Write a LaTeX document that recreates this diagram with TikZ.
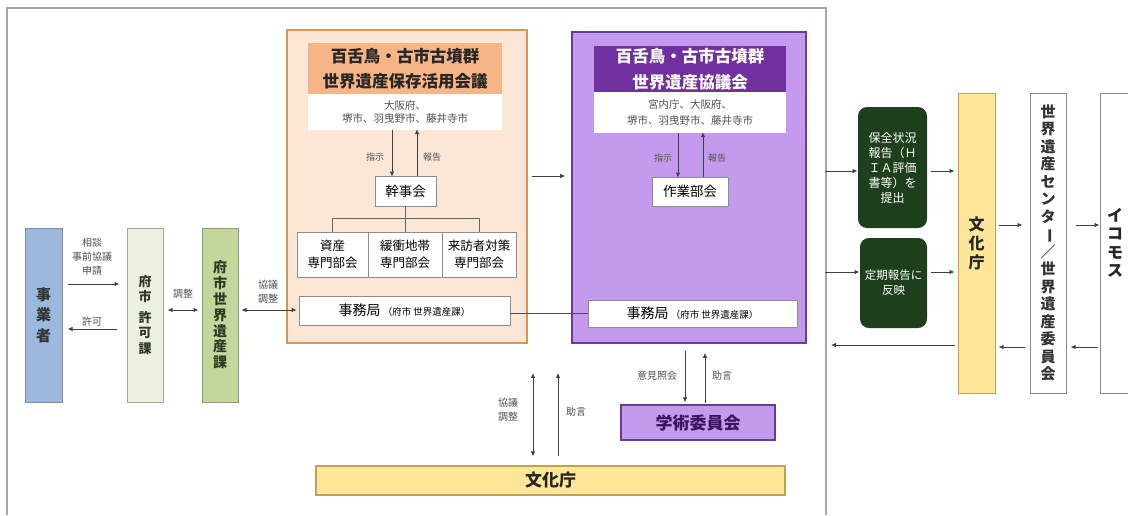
\documentclass[tikz,border=0pt]{standalone}
\usepackage{fontspec}
\setmainfont{Noto Sans CJK JP}
\usetikzlibrary{arrows.meta}
\definecolor{framegray}{HTML}{A6A6A6}
\definecolor{arrgray}{HTML}{404040}
\definecolor{lblgray}{HTML}{505050}
\definecolor{boxgray}{HTML}{8C8C8C}
\definecolor{jigfill}{HTML}{9CB8DE}
\definecolor{jigbd}{HTML}{7F8FA6}
\definecolor{kyofill}{HTML}{EBF1DE}
\definecolor{kyobd}{HTML}{A0A89A}
\definecolor{sekfill}{HTML}{C3D69B}
\definecolor{sekbd}{HTML}{8F9C7A}
\definecolor{orgfill}{HTML}{FCE6D6}
\definecolor{orgbd}{HTML}{D8955A}
\definecolor{orgtitle}{HTML}{F6B586}
\definecolor{purfill}{HTML}{C49AEE}
\definecolor{purbd}{HTML}{6A3A96}
\definecolor{purtitle}{HTML}{7030A0}
\definecolor{gakutext}{HTML}{3C1361}
\definecolor{yelfill}{HTML}{FFE699}
\definecolor{yelbd}{HTML}{BFA15A}
\definecolor{dkgreen}{HTML}{1E3F1B}
\definecolor{vtext}{HTML}{2E3A24}
\begin{document}
\begin{tikzpicture}[x=1pt,y=-1pt,
  arr/.style={draw=arrgray, line width=0.8pt, -{Latex[length=5pt,width=4.5pt]}},
  darr/.style={draw=arrgray, line width=0.8pt, {Latex[length=5pt,width=4.5pt]}-{Latex[length=5pt,width=4.5pt]}},
  lbl/.style={text=lblgray, align=center, inner sep=0pt, font=\fontsize{10}{14}\selectfont},
  wbox/.style={draw=boxgray, fill=white, line width=0.8pt, inner sep=0pt, align=center},
  vbox/.style={line width=1pt, inner sep=0pt, align=center},
]
\useasboundingbox (0,0) rectangle (1128,515);
% frame
\draw[framegray, line width=1.3pt] (7,515) -- (7,8) -- (826,8) -- (826,515);

% left column boxes
\node[vbox, draw=jigbd, fill=jigfill, minimum width=37, minimum height=174, font=\fontsize{15}{20.5}\selectfont\bfseries, text=black!80] (jig) at (43.5,315) {事\\業\\者};
\node[vbox, draw=kyobd, fill=kyofill, minimum width=36, minimum height=174, font=\fontsize{13}{15.5}\selectfont\bfseries, text=vtext] (kyo) at (145,315) {府\\市\\[5pt]許\\可\\課};
\node[vbox, draw=sekbd, fill=sekfill, minimum width=36, minimum height=174, font=\fontsize{14}{15.8}\selectfont\bfseries, text=vtext] (sek) at (220,315) {府\\市\\世\\界\\遺\\産\\課};

% orange council
\node[draw=orgbd, fill=orgfill, line width=1.8pt, minimum width=240, minimum height=313, inner sep=0pt] (org) at (407,186.5) {};
\node[fill=orgtitle, minimum width=194, minimum height=52, inner sep=0pt, align=center, font=\fontsize{16.5}{25}\selectfont\bfseries, text=black!85] (otitle) at (405,69) {百舌鳥・古市古墳群\\世界遺産保存活用会議};
\node[fill=white, minimum width=194, minimum height=36, inner sep=0pt, align=center, font=\fontsize{10.5}{13.5}\selectfont, text=lblgray] (omem) at (405,112) {大阪府、\\堺市、羽曳野市、藤井寺市};
\node[wbox, minimum width=61, minimum height=30, font=\fontsize{13.5}{16}\selectfont] (kanji) at (405.5,191) {幹事会};
\node[wbox, minimum width=71, minimum height=45, font=\fontsize{12.5}{17}\selectfont] (b1) at (332.5,254.5) {資産\\専門部会};
\node[wbox, minimum width=74, minimum height=45, font=\fontsize{12.5}{17}\selectfont] (b2) at (405,254.5) {緩衝地帯\\専門部会};
\node[wbox, minimum width=74, minimum height=45, font=\fontsize{12.5}{17}\selectfont] (b3) at (479,254.5) {来訪者対策\\専門部会};
\node[wbox, minimum width=211, minimum height=29, font=\fontsize{14}{16}\selectfont] (ojim) at (404.5,310.5) {事務局\,{\fontsize{9.5}{11}\selectfont（府市 世界遺産課）}};
\coordinate (ox1) at (392,0);
\coordinate (ox2) at (417,0);
\draw[arr] (omem.south -| ox1) -- ([yshift=-1pt]kanji.north -| ox1);
\draw[arr] (kanji.north -| ox2) -- ([yshift=1pt]omem.south -| ox2);
\node[lbl, font=\fontsize{9}{11}\selectfont] (oshiji) at (375,157) {指示};
\node[lbl, font=\fontsize{9}{11}\selectfont] (ohoko) at (432,157) {報告};
\draw[draw=black!60, line width=0.9pt] (kanji.south) -- ++(0,12) coordinate (tj);
\draw[draw=black!60, line width=0.9pt] (b1.north) -- (b1.north |- tj) -- (b3.north |- tj) -- (b3.north);
\draw[draw=black!60, line width=0.9pt] (b2.north) -- (b2.north |- tj);

% purple council
\node[draw=purbd, fill=purfill, line width=1.6pt, minimum width=234, minimum height=311, inner sep=0pt] (pur) at (689,187.5) {};
\node[fill=purtitle, minimum width=192, minimum height=47, inner sep=0pt, align=center, font=\fontsize{16.5}{26}\selectfont\bfseries, text=white] (ptitle) at (690,69.5) {百舌鳥・古市古墳群\\世界遺産協議会};
\node[fill=white, minimum width=192, minimum height=41, inner sep=0pt, align=center, font=\fontsize{10.5}{16}\selectfont, text=lblgray] (pmem) at (690,112.5) {宮内庁、大阪府、\\堺市、羽曳野市、藤井寺市};
\node[wbox, minimum width=76, minimum height=29, font=\fontsize{13.5}{16}\selectfont] (sagyo) at (690,191.5) {作業部会};
\node[wbox, minimum width=209, minimum height=27, font=\fontsize{14}{16}\selectfont] (pjim) at (692.5,313.5) {事務局\,{\fontsize{9.5}{11}\selectfont（府市 世界遺産課）}};
\coordinate (px1) at (678,0);
\coordinate (px2) at (703,0);
\draw[arr] (pmem.south -| px1) -- ([yshift=-1pt]sagyo.north -| px1);
\draw[arr] (sagyo.north -| px2) -- ([yshift=1pt]pmem.south -| px2);
\node[lbl, font=\fontsize{9}{11}\selectfont] (pshiji) at (663,158) {指示};
\node[lbl, font=\fontsize{9}{11}\selectfont] (phoko) at (717,158) {報告};

% links between councils
\coordinate (y313) at (0,313);
\draw[draw=black!70, line width=0.8pt] (ojim.east |- y313) -- (pjim.west |- y313);
\coordinate (y176) at (0,176);
\draw[arr, shorten <=4pt, shorten >=6pt] (org.east |- y176) -- (pur.west |- y176);

% left arrows
\coordinate (y284) at (0,284);
\coordinate (y329) at (0,329);
\coordinate (y310) at (0,310);
\draw[arr, shorten <=5pt, shorten >=7pt] (jig.east |- y284) -- (kyo.west |- y284);
\draw[arr, shorten <=10pt, shorten >=5pt] (kyo.west |- y329) -- (jig.east |- y329);
\draw[darr, shorten <=4pt, shorten >=3pt] (kyo.east |- y310) -- (sek.west |- y310);
\draw[darr, shorten <=3pt, shorten >=2pt] (sek.east |- y310) -- (ojim.west |- y310);
\node[lbl] (l1) at (92,257) {相談\\事前協議\\申請};
\node[lbl] (l2) at (92,322) {許可};
\node[lbl] (l3) at (183,294) {調整};
\node[lbl] (l4) at (268,292) {協議\\調整};

% bottom
\node[vbox, draw=purbd, fill=purfill, line width=1.2pt, minimum width=154, minimum height=35, font=\fontsize{17}{20}\selectfont\bfseries, text=gakutext] (gaku) at (698,422.5) {学術委員会};
\node[vbox, draw=yelbd, fill=yelfill, line width=1.2pt, minimum width=469, minimum height=29, font=\fontsize{17}{20}\selectfont\bfseries, text=black!85] (bunka) at (550.5,480.5) {文化庁};
\coordinate (gx1) at (685,0);
\coordinate (gx2) at (705,0);
\draw[arr, shorten <=7pt, shorten >=2pt] (pur.south -| gx1) -- (gaku.north -| gx1);
\draw[arr, shorten <=1pt, shorten >=9pt] (gaku.north -| gx2) -- (pur.south -| gx2);
\node[lbl] (l5) at (657,376) {意見照会};
\node[lbl] (l6) at (722,376) {助言};
\coordinate (ct1) at (533,373);
\coordinate (ct2) at (558,373);
\draw[darr, shorten >=9pt] (ct1) -- (bunka.north -| ct1);
\draw[arr, shorten <=9pt] (bunka.north -| ct2) -- (ct2);
\node[lbl] (l7) at (508,410) {協議\\調整};
\node[lbl] (l8) at (576,412) {助言};

% right side
\node[vbox, fill=dkgreen, rounded corners=9pt, minimum width=69, minimum height=121, font=\fontsize{12}{15}\selectfont, text=white] (g1) at (892.5,167.5) {保全状況\\報告（Ｈ\\ＩＡ評価\\書等）を\\提出};
\node[vbox, fill=dkgreen, rounded corners=9pt, minimum width=67, minimum height=90, font=\fontsize{11.5}{15}\selectfont, text=white] (g2) at (893.5,283) {定期報告に\\反映};
\node[vbox, draw=yelbd, fill=yelfill, minimum width=37, minimum height=300, font=\fontsize{16}{19}\selectfont\bfseries, text=black!85] (bunkaR) at (976.5,243) {文\\化\\庁};
\node[vbox, draw=boxgray, fill=white, minimum width=36, minimum height=300, font=\fontsize{15}{17.5}\selectfont\bfseries, text=black!80] (whc) at (1048,243) {世\\界\\遺\\産\\セ\\ン\\タ\\\rotatebox[origin=c]{-90}{ー}\\／\\世\\界\\遺\\産\\委\\員\\会};
\node[vbox, draw=boxgray, fill=white, minimum width=30, minimum height=300, font=\fontsize{16}{18.5}\selectfont\bfseries, text=black!85] (ico) at (1115,243) {イ\\コ\\モ\\ス};

\coordinate (fr1) at (825,171);
\coordinate (fr2) at (825,272);
\coordinate (fr3) at (831,345);
\draw[arr] (fr1) -- (g1.west |- fr1);
\draw[arr] (fr2) -- (g2.west |- fr2);
\draw[arr, shorten <=3pt, shorten >=3pt] (g1.east |- fr1) -- (bunkaR.west |- fr1);
\draw[arr, shorten <=3pt, shorten >=3pt] (g2.east |- fr2) -- (bunkaR.west |- fr2);
\draw[arr, shorten <=3pt] (bunkaR.west |- fr3) -- (fr3);
\coordinate (y225) at (0,225);
\coordinate (y347) at (0,347);
\draw[arr, shorten <=3pt, shorten >=7pt] (bunkaR.east |- y225) -- (whc.west |- y225);
\draw[arr, shorten <=9pt, shorten >=0pt] (whc.east |- y225) -- (ico.west |- y225);
\draw[arr, shorten <=2pt, shorten >=4pt] (ico.west |- y347) -- (whc.east |- y347);
\draw[arr, shorten <=5pt, shorten >=3pt] (whc.west |- y347) -- (bunkaR.east |- y347);
\end{tikzpicture}
\end{document}
